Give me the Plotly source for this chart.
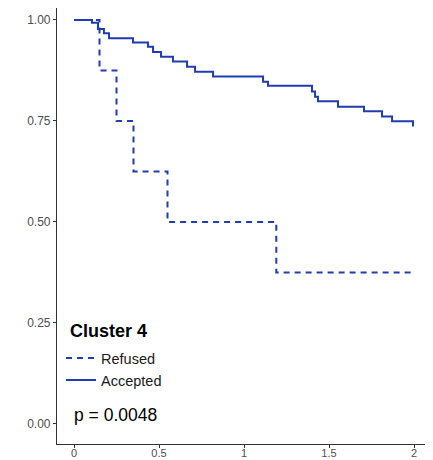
import plotly.graph_objects as go

# Kaplan-Meier step data (time in years, survival probability)
refused_time = [0, 0.15, 0.25, 0.35, 0.55, 1.19, 1.98]
refused_surv = [1.0, 0.875, 0.75, 0.625, 0.5, 0.375, 0.375]

accepted_time = [0, 0.106, 0.141, 0.176, 0.206, 0.347, 0.435, 0.465, 0.512, 0.582,
                 0.665, 0.712, 0.818, 1.112, 1.141, 1.40, 1.418, 1.435, 1.553,
                 1.706, 1.812, 1.871, 1.994]
accepted_surv = [1.0, 0.993, 0.978, 0.967, 0.955, 0.944, 0.934, 0.921, 0.909, 0.897,
                 0.884, 0.872, 0.860, 0.847, 0.837, 0.823, 0.810, 0.799, 0.785,
                 0.774, 0.761, 0.749, 0.736]

x_ticks = [0, 0.5, 1, 1.5, 2]
x_tick_labels = ["0", "0.5", "1", "1.5", "2"]
y_ticks = [0, 0.25, 0.5, 0.75, 1.0]
y_tick_labels = ["0.00", "0.25", "0.50", "0.75", "1.00"]

legend_title = "Cluster 4"
p_text = "p = 0.0048"

LINE = "#1f3cb0"
FONT = "Liberation Sans, Arial, sans-serif"

fig = go.Figure()
fig.add_trace(go.Scatter(
    x=refused_time, y=refused_surv, mode="lines", line_shape="hv",
    name="Refused", legendgroup="r",
    line=dict(color=LINE, width=2, dash="6px,5px"),
))
fig.add_trace(go.Scatter(
    x=accepted_time, y=accepted_surv, mode="lines", line_shape="hv",
    name="Accepted", legendgroup="a",
    line=dict(color=LINE, width=2),
))

axis_common = dict(
    showline=True, linecolor="#333333", linewidth=1.2,
    ticks="outside", ticklen=3, tickcolor="#333333", tickwidth=1,
    showgrid=False, zeroline=False,
    automargin=False,
)

fig.update_layout(
    width=425, height=452,
    margin=dict(l=49, r=2, t=0, b=16),
    paper_bgcolor="white", plot_bgcolor="white",
    font=dict(family=FONT),
    xaxis=dict(range=[-0.1, 2.1], tickvals=x_ticks, ticktext=x_tick_labels,
               ticklabelstandoff=-4,
               tickfont=dict(family=FONT, size=11, color="#4d4d4d"), **axis_common),
    yaxis=dict(range=[-0.05, 1.0297], tickvals=y_ticks, ticktext=y_tick_labels,
               tickfont=dict(family=FONT, size=12, color="#4d4d4d"), **axis_common),
    showlegend=True,
    legend=dict(
        x=0.0107, y=0.2335, xanchor="left", yanchor="top",
        bgcolor="rgba(0,0,0,0)",
        font=dict(family=FONT, size=14.5, color="#1a1a1a"),
        traceorder="normal", tracegroupgap=3, itemwidth=30,
    ),
    annotations=[
        dict(
            text="<b>" + legend_title + "</b>", xref="paper", yref="paper",
            x=0.0294, y=0.259, xanchor="left", yanchor="middle", showarrow=False,
            font=dict(family=FONT, size=18, color="black"),
        ),
        dict(
            text=p_text, xref="paper", yref="paper", x=0.040, y=0.0664,
            xanchor="left", yanchor="middle", showarrow=False,
            font=dict(family=FONT, size=17.5, color="black"),
        ),
    ],
)

fig.write_html("out.html")
